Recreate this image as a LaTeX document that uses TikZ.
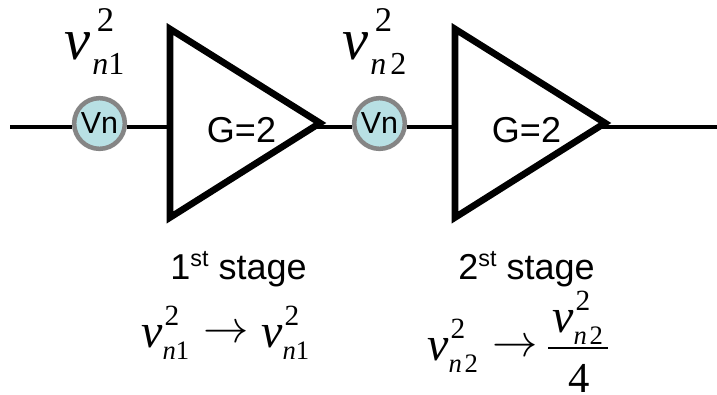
\documentclass[tikz,border=0pt]{standalone}
\usepackage{fontspec}
\setmainfont{Liberation Serif}
\newfontfamily\sansf{Liberation Sans}
\tikzset{
 px/.style={x=0.75pt,y=-0.75pt},
 amp/.style={line width=5pt,line join=miter,black},
 wire/.style={line width=2.5pt,black},
 vn/.style={circle,draw=black!48,line width=3.4pt,fill={rgb,255:red,184;green,224;blue,228},minimum size=38pt,inner sep=0pt,font=\sansf\fontsize{22.8}{24}\selectfont},
 glabel/.style={font=\sansf\fontsize{27}{30}\selectfont,inner sep=0pt},
 stagelabel/.style={font=\sansf\fontsize{27}{30}\selectfont,inner sep=0pt,anchor=base},
 vsmall/.style={font=\fontsize{36}{36}\selectfont,inner sep=0pt,anchor=base west},
 vbig/.style={font=\fontsize{44}{44}\selectfont,inner sep=0pt,anchor=base west},
 arr/.style={inner sep=0pt},
 fourlabel/.style={font=\fontsize{32}{32}\selectfont,inner sep=0pt,anchor=base},
 bar/.style={line width=1.2pt},
}
\newcommand{\bigv}[2]{\textit{v}\rlap{\kern5pt\raisebox{21pt}{\fontsize{26}{26}\selectfont 2}}\kern1.5pt\raisebox{-11pt}{\fontsize{24}{24}\selectfont\textit{n}\kern#2 #1}}
\newcommand{\smallv}[2]{\textit{v}\rlap{\kern1.5pt\raisebox{16pt}{\fontsize{22}{22}\selectfont 2}}\raisebox{-9pt}{\fontsize{20}{20}\selectfont\textit{n}\kern#2 #1}}
\newcommand{\stg}[1]{#1\raisebox{10pt}{\fontsize{17.5}{18}\selectfont st} stage}
\newcommand{\bigarr}{\scalebox{3.4}{$\rightarrow$}}
\begin{document}
\begin{tikzpicture}[px]
\useasboundingbox (0,0) rectangle (717,395);
\coordinate (in) at (10,127);
\coordinate (out) at (717,127);
\node[vn] (v1) at (99.5,123.5) {Vn};
\node[vn] (v2) at (379.5,123.5) {Vn};
\coordinate (a1l) at (170,127);
\coordinate (a1r) at (317,127);
\coordinate (a2l) at (455,127);
\coordinate (a2r) at (602,127);
\coordinate (bl) at (548,348);
\coordinate (br) at (608,348);
\draw[wire] (in) -- (in -| v1.west);
\draw[wire] (in -| v1.east) -- (a1l);
\draw[wire] (a1r) -- (a1r -| v2.west);
\draw[wire] (a1r -| v2.east) -- (a2l);
\draw[wire] (a2r) -- (out);
\draw[amp] (170,29) -- (320,123) -- (170,217.5) -- cycle;
\draw[amp] (455,29) -- (605,123) -- (455,217.5) -- cycle;
\node[glabel] (g1) at (241.5,130) {G=2};
\node[glabel] (g2) at (526.5,130) {G=2};
\node[vbig] (n1) at (64,60) {\bigv{1}{0pt}};
\node[vbig] (n2) at (342,60) {\bigv{2}{3pt}};
\node[stagelabel] (s1) at (238.5,280) {\stg{1}};
\node[stagelabel] (s2) at (526.5,280) {\stg{2}};
\node[vsmall] (e1) at (141,347) {\smallv{1}{0pt}};
\node[arr] (a1) at (226,334) {\bigarr};
\node[vsmall] (e2) at (261,347) {\smallv{1}{0pt}};
\node[vsmall] (e3) at (427,360) {\smallv{2}{2pt}};
\node[arr] (a2) at (515,348) {\bigarr};
\node[vsmall] (e4) at (552,332) {\smallv{2}{2pt}};
\node[fourlabel] (four) at (579,392) {4};
\draw[bar] (bl) -- (br);
\end{tikzpicture}
\end{document}
